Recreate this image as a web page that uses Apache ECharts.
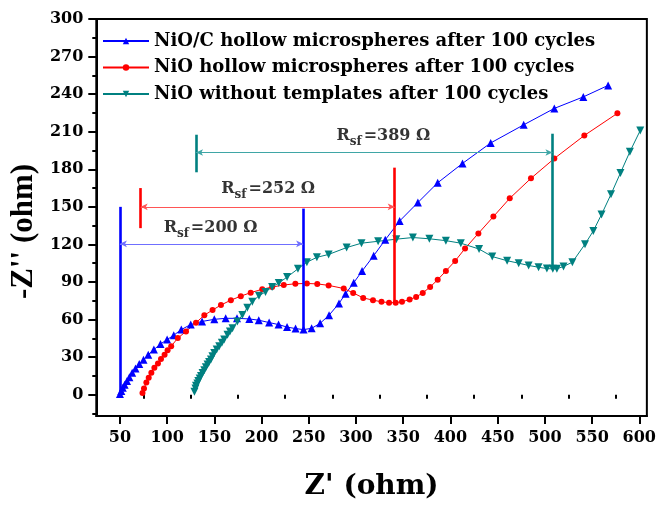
<!DOCTYPE html>
<html>
<head>
<meta charset="utf-8">
<script src="https://cdn.jsdelivr.net/npm/echarts@6/dist/echarts.min.js"></script>
<style>html,body{margin:0;padding:0;background:#fff}#c{width:659px;height:506px}</style>
</head>
<body>
<div id="c"></div>
<script>
// ---------------- data ----------------
const seriesNames = [
  'NiO/C hollow microspheres after 100 cycles',
  'NiO hollow microspheres after 100 cycles',
  'NiO without templates after 100 cycles'
];
const nioCX = [50,51.5,53,55,57.5,60,63,66.5,70.5,75,80,86,93,100,107,115,125,137,150,162,174,187,197,208,218,227,236,244.5,253,262,271.5,282,289,297.6,306.4,318.7,331,346.2,365.5,386.5,412.8,442.6,477.6,510,540.7,567];
const nioCY = [0.5,3,5.5,8,11,14,17.5,21,24.5,28,32,36,40.5,44,47.5,52,56,58.5,60.2,61,61,60.5,59.5,57.6,56,54,52.8,52,53,57,63.5,72.9,80.7,89.4,98.7,111,123.7,138.7,153.4,169.2,184.7,201,215.5,228.6,237.8,247];
const nioX = [73.9,75.5,78,80.5,83.3,86.5,90.3,93.5,97.3,100.5,104.3,111.3,120,130.6,139.4,148.1,157,167.5,178,188.5,200.7,211.2,223.5,235.8,248,259,271,287,297,307.6,318,327,335,342,348.7,356.8,363.7,370.7,378.5,386.5,395.2,405,415.5,429.6,445.5,462.8,485.3,510,541.8,576.8];
const nioY = [1.3,5,9.7,13.5,17.6,21.5,25,28.5,32,35.5,38.7,45.2,50.5,57.5,63.5,67.6,71.6,75.5,78.7,81.5,84.2,86,87.6,88.6,88.8,88.5,87.3,84.8,81.3,77.3,75.5,74.2,73.5,73.5,74.2,76,78.1,81.3,86,91.8,98.8,106.8,116.8,128.8,142.2,156.8,172.8,188.6,207,224.7];
const nioTX = [128.9,130,130.6,132,133,134.5,135.9,137.5,139.4,141,142.8,144.5,146.4,148,149.9,152.5,155.2,158,160.4,163.9,166.5,169.2,174.4,179.7,184.9,190.2,197.2,204.2,211.2,218.2,227,238.5,248,258.6,271,290.1,305.8,323.4,342.7,360.2,377.7,395.2,411,430.3,444.3,460,472.3,482.8,493.3,502.1,508.4,512.7,519.7,529.1,542.5,551.3,560,570,580,590,601];
const nioTY = [2.4,5,7.1,9,11,13,15,17.3,19.5,22,24.2,26.2,28.1,30.8,33.4,36,38.7,41.5,44,47.9,50.5,53.1,58.4,63.7,69.5,74.2,79,82.1,86,89.2,93.9,100.5,105.8,109.7,112,117.5,121,122.5,124.2,125.5,124.5,123,121,116.3,110.3,107,105,103.2,101.8,100.7,100.5,100.5,102.4,105.8,120.2,130.8,143.9,160,177,194,211];

const xTicks = [50,100,150,200,250,300,350,400,450,500,550,600];
const xMinorTicks = [75,125,175,225,275,325,375,425,475,525,575];
const yTicks = [0,30,60,90,120,150,180,210,240,270,300];
const yMinorTicks = [-15,15,45,75,105,135,165,195,225,255,285];

// Rsf annotations
const rsfValues = ['200','252','389'];
const rsfLeftX = [50,72,130.6];
const rsfRightX = [244,341,508];
const rsfArrowY = [120.5,150,193.4];
const rsfLeftBar = [[0,150],[133,165],[177.6,207.6]];
const rsfRightBar = [[52,148.6],[73.5,181.3],[100.5,208.4]];
const rsfLabelPos = [[146,133],[207,164],[329,206.5]];

// ---------------- chart ----------------
const FONT = '"DejaVu Serif","Liberation Serif",serif';
const TFONT = '"Liberation Serif","Times New Roman",serif';
const colors = ['#0000ff','#ff0000','#008080'];
const arrowColors = ['#6f6fff','#ff5555','#3fa6a6'];
const pairs = (xs, ys) => xs.map((x,i)=>[x, ys[i]]);

const markData = [];
for (let i=0;i<3;i++){
  markData.push([{coord:[rsfLeftX[i], rsfLeftBar[i][0]], symbol:'none', lineStyle:{color:colors[i], width:2.6, type:'solid'}},
                 {coord:[rsfLeftX[i], rsfLeftBar[i][1]], symbol:'none'}]);
  markData.push([{coord:[rsfRightX[i], rsfRightBar[i][0]], symbol:'none', lineStyle:{color:colors[i], width:2.6, type:'solid'}},
                 {coord:[rsfRightX[i], rsfRightBar[i][1]], symbol:'none'}]);
  markData.push([{coord:[rsfLeftX[i], rsfArrowY[i]], symbol:'arrow', symbolSize:[5,7], lineStyle:{color:arrowColors[i], width:1, type:'solid'}, itemStyle:{color:arrowColors[i]}},
                 {coord:[rsfRightX[i], rsfArrowY[i]], symbol:'arrow', symbolSize:[5,7]}]);
}

const chart = echarts.init(document.getElementById('c'), null, {renderer:'canvas'});
const axisCommon = {
  type:'value',
  splitLine:{show:false},
  axisLine:{show:true, onZero:false, lineStyle:{color:'#000', width:2}},
};
chart.setOption({
  animation:false,
  backgroundColor:'#fff',
  grid:{left:96, right:8, top:19, bottom:86, show:true, borderColor:'#000', borderWidth:2, backgroundColor:'transparent'},
  legend:{
    data:seriesNames,
    orient:'vertical', left:97, top:26,
    itemWidth:46, itemHeight:8, itemGap:6.5,
    textStyle:{fontFamily:FONT, fontWeight:'bold', fontSize:18, color:'#000', lineHeight:20}
  },
  xAxis:[
    Object.assign({}, axisCommon, {
      min:25, max:608, position:'bottom',
      name:"Z' (ohm)", nameLocation:'middle', nameGap:57,
      nameTextStyle:{fontFamily:FONT, fontWeight:'bold', fontSize:28, color:'#000'},
      axisTick:{show:true, inside:false, length:8, lineStyle:{width:2,color:'#000'}, customValues:xTicks},
      axisLabel:{customValues:xTicks, margin:14, fontFamily:FONT, fontWeight:'bold', fontSize:16, color:'#000'}
    }),
    Object.assign({}, axisCommon, {
      min:25, max:608, position:'bottom', axisLine:{show:false},
      axisTick:{show:true, length:4, lineStyle:{width:2,color:'#000'}, customValues:xMinorTicks},
      axisLabel:{show:false}
    })
  ],
  yAxis:[
    Object.assign({}, axisCommon, {
      min:-17, max:300, position:'left',
      name:"-Z'' (ohm)", nameLocation:'middle', nameGap:52,
      nameTextStyle:{fontFamily:TFONT, fontWeight:'bold', fontSize:31, color:'#000', padding:[0,28,0,0]},
      axisTick:{show:true, length:8, lineStyle:{width:2,color:'#000'}, customValues:yTicks},
      axisLabel:{customValues:yTicks, margin:13, fontFamily:FONT, fontWeight:'bold', fontSize:16, color:'#000'}
    }),
    Object.assign({}, axisCommon, {
      min:-17, max:300, position:'left', axisLine:{show:false},
      axisTick:{show:true, length:4, lineStyle:{width:2,color:'#000'}, customValues:yMinorTicks},
      axisLabel:{show:false}
    })
  ],
  series:[
    {name:seriesNames[0], type:'line', data:pairs(nioCX,nioCY), symbol:'triangle', symbolSize:8,
     lineStyle:{color:colors[0], width:1}, itemStyle:{color:colors[0]}, z:3},
    {name:seriesNames[1], type:'line', data:pairs(nioX,nioY), symbol:'circle', symbolSize:6,
     lineStyle:{color:colors[1], width:1}, itemStyle:{color:colors[1]}, z:3},
    {name:seriesNames[2], type:'line', data:pairs(nioTX,nioTY), symbol:'triangle', symbolRotate:180, symbolSize:8,
     lineStyle:{color:colors[2], width:1}, itemStyle:{color:colors[2]}, z:3},
    {name:'rsf', type:'scatter', symbolSize:0, z:4,
     data:rsfLabelPos.map((p,i)=>({value:p, rsf:rsfValues[i]})),
     label:{show:true, position:'inside', color:'#000',
       formatter:(p)=>'{r|R}{s|sf}{r|=' + rsfValues[p.dataIndex] + ' Ω}',
       rich:{
         r:{fontFamily:FONT, fontWeight:'bold', fontSize:16, color:'#000', lineHeight:22},
         s:{fontFamily:FONT, fontWeight:'bold', fontSize:12, color:'#000', lineHeight:22, padding:[12,2,0,0]}
       }},
     markLine:{silent:true, animation:false, label:{show:false}, data:markData}
    }
  ]
});
</script>
</body>
</html>
